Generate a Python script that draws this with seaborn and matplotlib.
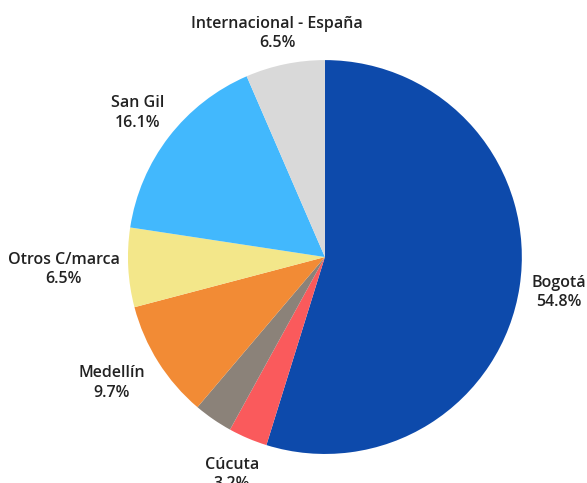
import numpy as np
import matplotlib
matplotlib.use("Agg")
import matplotlib.pyplot as plt
import seaborn as sns

sns.set_theme(style="white")
plt.rcParams["font.family"] = ["Open Sans", "DejaVu Sans"]

# slices, clockwise from 12 o'clock
ciudades = ["Bogotá", "Cúcuta", "", "Medellín", "Otros C/marca", "San Gil", "Internacional - España"]
porcentajes = [54.8, 3.2, 3.2, 9.7, 6.5, 16.1, 6.5]
colores = ["#0D4AAB", "#FA5A5C", "#8B8279", "#F28B35", "#F3E78A", "#42B8FD", "#D9D9D9"]

fig = plt.figure(figsize=(5.87, 4.83), dpi=100)
ax = fig.add_axes([0.218, 0.060, 0.671, 0.8157])

wedges, _ = ax.pie(porcentajes, colors=colores, startangle=90, counterclock=False,
                   radius=1, wedgeprops=dict(linewidth=0))
ax.set_xlim(-1, 1)
ax.set_ylim(-1, 1)

# labels: name + percent, centred outside each slice
for w, nombre, p in zip(wedges, ciudades, porcentajes):
    if not nombre:
        continue
    ang = np.deg2rad((w.theta1 + w.theta2) / 2)
    d = 1.2
    x, y = d * np.cos(ang), d * np.sin(ang)
    if y < 0.3:
        x -= 0.13 * max(0, -np.cos(ang)) ** 4
    if y > 1:
        y -= 0.04
    ax.text(x, y, f"{nombre}\n{p:.1f}%", ha="center", va="center", fontsize=11.5,
            fontweight="semibold", color="#222222", linespacing=1.3, clip_on=False)

fig.savefig("out.png", dpi=100)
